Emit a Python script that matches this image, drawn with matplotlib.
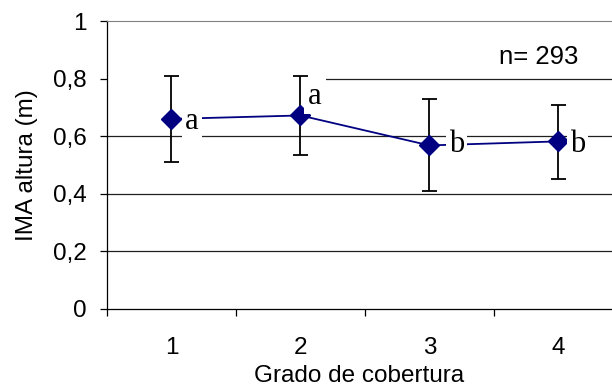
import matplotlib
matplotlib.use('Agg')
import matplotlib.pyplot as plt
import numpy as np
from matplotlib.patches import Rectangle

# data
grado = [1, 2, 3, 4]
ima_media = [0.66, 0.672, 0.568, 0.582]
ima_sup = [0.81, 0.81, 0.728, 0.707]
ima_inf = [0.512, 0.535, 0.408, 0.45]
letras = ['a', 'a', 'b', 'b']
y_ticks = [0, 0.2, 0.4, 0.6, 0.8, 1.0]
y_ticklabels = ['0', '0,2', '0,4', '0,6', '0,8', '1']
n_text = 'n= 293'

# label offsets (points) relative to each marker
letra_offsets = [(10, -7), (5, 8.4), (14, -5), (8.4, -8)]

plt.rcParams['font.family'] = ['Liberation Sans', 'DejaVu Sans']
FS = 17.5

fig = plt.figure(figsize=(6.12, 3.89), dpi=100)
ax = fig.add_axes([0.1748, 0.2057, 0.8252, 0.7403])

media = np.array(ima_media)
err = [media - np.array(ima_inf), np.array(ima_sup) - media]

ax.errorbar(grado, media, yerr=err, fmt='none', ecolor='black',
            elinewidth=1.3, capsize=5.4, capthick=1.3, zorder=2)
ax.plot(grado, media, color='#000080', lw=1.3, marker='D', markersize=10,
        markerfacecolor='#000080', markeredgecolor='#000080', zorder=2.5)

for x, y, l, off in zip(grado, ima_media, letras, letra_offsets):
    ax.annotate(l, (x, y), xytext=off, textcoords='offset points',
                ha='left', va='baseline', fontsize=22,
                family=['Liberation Serif', 'DejaVu Serif'], zorder=3,
                bbox=dict(boxstyle='square,pad=0.1', fc='white', ec='none'))

ax.text(3.54, 0.875, n_text, ha='left', va='center', fontsize=18.5,
        bbox=dict(boxstyle='square,pad=0.15', fc='white', ec='none'), zorder=3)

# gridlines
for yv in y_ticks[1:-1]:
    ax.axhline(yv, color='#202020', lw=0.9, zorder=0.5)
# gap in the 0,8 line as in the reference
ax.add_patch(Rectangle((0, 0.79), 0.434, 0.02, transform=ax.get_yaxis_transform(),
                       fc='white', ec='none', zorder=1))

ax.set_xlim(0.5, 4.415)
ax.set_ylim(0, 1)
ax.set_yticks(y_ticks)
ax.set_yticklabels(y_ticklabels)
ax.set_xticks([0.5, 1.5, 2.5, 3.5])
ax.set_xticklabels([])
ax.set_xticks(grado, minor=True)
ax.set_xticklabels([str(g) for g in grado], minor=True)
ax.tick_params(axis='x', which='major', direction='out', length=5, width=0.9)
ax.tick_params(axis='x', which='minor', length=0, pad=20.5, labelsize=FS)
ax.tick_params(axis='y', direction='out', length=5, width=0.9, pad=9.5, labelsize=FS)

ax.spines['right'].set_visible(False)
ax.spines['top'].set_color('#808080')
ax.spines['left'].set_linewidth(0.9)
ax.spines['bottom'].set_linewidth(0.9)

ax.set_xlabel('Grado de cobertura', fontsize=FS, labelpad=4)
ax.set_ylabel('IMA altura (m)', fontsize=FS, labelpad=11)

fig.savefig('out.png', dpi=100)
